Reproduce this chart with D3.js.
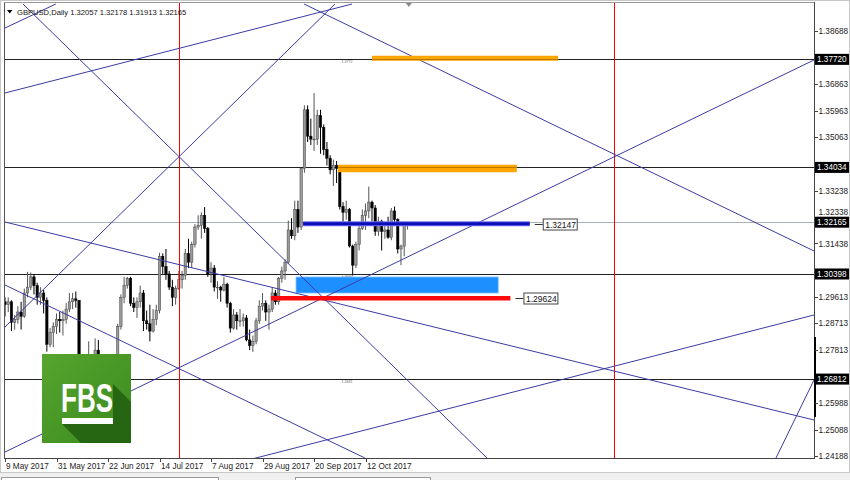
<!DOCTYPE html>
<html><head><meta charset="utf-8">
<script src="https://cdn.jsdelivr.net/npm/d3@7/dist/d3.min.js"></script>
<style>
body{margin:0;background:#fff;}
svg{display:block;font-family:"Liberation Sans",Arial,sans-serif;}
</style>
</head><body>
<svg id="c" width="850" height="480"></svg>
<script>
// ---------- DATA ----------
const symbolTitle = "GBPUSD,Daily";
const lastOHLC = ["1.32057","1.32178","1.31913","1.32165"];

const opens  = [1.2945,1.2935,1.2945,1.2875,1.2885,1.2910,1.2895,1.2975,1.2995,1.3030,
  1.3000,1.2960,1.2975,1.2950,1.2800,1.2840,1.2860,1.2885,1.2880,1.2885,
  1.2920,1.2945,1.2955,1.2950,1.2740,1.2655,1.2740,1.2745,1.2750,1.2780,
  1.2730,1.2630,1.2660,1.2700,1.2720,1.2730,1.2860,1.2960,1.3000,1.3025,
  1.2940,1.2925,1.2945,1.2975,1.2880,1.2870,1.2845,1.2885,1.2915,1.3100,
  1.3065,1.3040,1.2995,1.2960,1.2990,1.3020,1.3035,1.3110,1.3080,1.3140,
  1.3200,1.3205,1.3240,1.3195,1.3040,1.3060,1.2995,1.2995,1.2985,1.3005,
  1.2940,1.2855,1.2900,1.2880,1.2880,1.2890,1.2815,1.2795,1.2810,1.2880,
  1.2930,1.2940,1.2910,1.2920,1.2975,1.2945,1.3025,1.3050,1.3080,1.3190,
  1.3170,1.3260,1.3200,1.3400,1.3600,1.3510,1.3500,1.3500,1.3580,1.3540,
  1.3465,1.3435,1.3395,1.3410,1.3400,1.3270,1.3250,1.3260,1.3135,1.3070,
  1.3140,1.3195,1.3240,1.3255,1.3285,1.3265,1.3185,1.3220,1.3185,1.3190,
  1.3165,1.3255,1.3225,1.3125,1.3135,1.32057];
const highs  = [1.2960,1.2960,1.2950,1.2900,1.2930,1.2945,1.2990,1.3047,1.3045,1.3040,
  1.3010,1.2995,1.2985,1.2960,1.2855,1.2875,1.2905,1.2910,1.2915,1.2940,
  1.2975,1.2975,1.2980,1.2950,1.2750,1.2750,1.2810,1.2760,1.2820,1.2815,
  1.2740,1.2700,1.2720,1.2750,1.2760,1.2870,1.2970,1.3030,1.3030,1.3030,
  1.2960,1.2960,1.3000,1.2985,1.2915,1.2935,1.2920,1.2935,1.3112,1.3110,
  1.3125,1.3050,1.3020,1.3000,1.3050,1.3050,1.3125,1.3160,1.3150,1.3210,
  1.3240,1.3250,1.3268,1.3200,1.3080,1.3070,1.3015,1.3000,1.3030,1.3010,
  1.2945,1.2920,1.2910,1.2920,1.2905,1.2900,1.2850,1.2830,1.2890,1.2950,
  1.2975,1.2950,1.2935,1.2995,1.2985,1.3030,1.3065,1.3090,1.3222,1.3230,
  1.3290,1.3290,1.3400,1.3615,1.3615,1.3570,1.3657,1.3600,1.3600,1.3550,
  1.3490,1.3445,1.3430,1.3425,1.3405,1.3285,1.3290,1.3265,1.3140,1.3150,
  1.3210,1.3260,1.3280,1.3338,1.3290,1.3275,1.3235,1.3225,1.3215,1.3235,
  1.3265,1.3270,1.3230,1.3140,1.3215,1.32178];
const lows   = [1.2895,1.2910,1.2845,1.2850,1.2870,1.2850,1.2890,1.2960,1.2985,1.2970,
  1.2935,1.2935,1.2905,1.2775,1.2790,1.2790,1.2835,1.2840,1.2830,1.2870,
  1.2910,1.2920,1.2925,1.2635,1.2635,1.2630,1.2720,1.2690,1.2745,1.2710,
  1.2620,1.2590,1.2640,1.2680,1.2700,1.2710,1.2850,1.2940,1.2990,1.2930,
  1.2910,1.2890,1.2925,1.2845,1.2850,1.2810,1.2840,1.2865,1.2905,1.3040,
  1.3020,1.2985,1.2930,1.2935,1.2985,1.2990,1.3020,1.3060,1.3060,1.3130,
  1.3190,1.3160,1.3180,1.3030,1.3010,1.2980,1.2955,1.2945,1.2980,1.2925,
  1.2840,1.2850,1.2850,1.2860,1.2860,1.2810,1.2780,1.2774,1.2800,1.2870,
  1.2915,1.2880,1.2850,1.2910,1.2935,1.2935,1.3010,1.3020,1.3075,1.3160,
  1.3155,1.3180,1.3190,1.3385,1.3490,1.3480,1.3460,1.3480,1.3450,1.3445,
  1.3410,1.3380,1.3340,1.3350,1.3260,1.3210,1.3225,1.3130,1.3035,1.3060,
  1.3120,1.3190,1.3190,1.3230,1.3220,1.3170,1.3170,1.3120,1.3160,1.3160,
  1.3155,1.3210,1.3110,1.3070,1.3100,1.31913];
const closes = [1.2935,1.2945,1.2875,1.2885,1.2910,1.2895,1.2975,1.2995,1.3030,1.3000,
  1.2960,1.2975,1.2950,1.2800,1.2840,1.2860,1.2885,1.2880,1.2885,1.2920,
  1.2945,1.2955,1.2950,1.2740,1.2655,1.2740,1.2745,1.2750,1.2780,1.2730,
  1.2630,1.2660,1.2700,1.2720,1.2730,1.2860,1.2960,1.3000,1.3025,1.2940,
  1.2925,1.2945,1.2975,1.2880,1.2870,1.2845,1.2885,1.2915,1.3100,1.3065,
  1.3040,1.2995,1.2960,1.2990,1.3020,1.3035,1.3110,1.3080,1.3140,1.3200,
  1.3205,1.3240,1.3195,1.3040,1.3060,1.2995,1.2995,1.2985,1.3005,1.2940,
  1.2855,1.2900,1.2880,1.2880,1.2890,1.2815,1.2795,1.2810,1.2880,1.2930,
  1.2940,1.2910,1.2920,1.2975,1.2945,1.3025,1.3050,1.3080,1.3190,1.3170,
  1.3260,1.3200,1.3400,1.3600,1.3510,1.3500,1.3500,1.3580,1.3540,1.3465,
  1.3435,1.3395,1.3410,1.3400,1.3270,1.3250,1.3260,1.3135,1.3070,1.3140,
  1.3195,1.3240,1.3255,1.3285,1.3265,1.3185,1.3220,1.3185,1.3190,1.3165,
  1.3255,1.3225,1.3125,1.3135,1.3205,1.32165];

const dateLabels = ["9 May 2017","31 May 2017","22 Jun 2017","14 Jul 2017","7 Aug 2017","29 Aug 2017","20 Sep 2017","12 Oct 2017"];
const dateBarIdx = [0,16,32,48,64,80,96,112];

const priceTicks = [1.38688,1.36863,1.35963,1.35063,1.33238,1.32338,1.31438,1.29613,1.28713,1.27813,1.25988,1.25088,1.24188];
const levelLines = [1.37720,1.34034,1.30398,1.26812];   // black horizontal lines
const currentPrice = 1.32165;

// trend lines: [bar1, price1, bar2, price2]
const trendA = [0,1.3879,15.8,1.3961];
const trendB = [0,1.36573,107.8,1.39609];
const trendC = [0,1.28589,102.5,1.39609];
const trendD = [5.6,1.39609,149.7,1.24120];
const trendE = [0,1.32171,251.3,1.25416];
const trendF = [0,1.30022,111.8,1.24120];
const trendG = [0,1.24324,251.3,1.37699];
const trendH = [92.9,1.39609,251.3,1.31182];
const trendI = [75.5,1.24051,251.3,1.28999];
const trendJ = [239.5,1.24120,251.3,1.26781];
const trendLines = [trendA,trendB,trendC,trendD,trendE,trendF,trendG,trendH,trendI,trendJ];

const redVerticalBars = [54, 189.2];
// zones: [bar1, bar2, price]
const orangeTop = [114, 171.8, 1.37760];
const orangeMid = [103.4, 159, 1.33997];
const blueLevel = [92.6, 163, 1.32147];
const redLevel  = [82.6, 157, 1.29624];
const blueZone  = [90.4, 153.2, 1.30295, 1.29749];

// ---------- DRAW ----------
const svg = d3.select("#c");
const L = 4, R = 814, T = 2, B = 458;
const x = d3.scaleLinear().domain([0, 251.3]).range([5, 814]);
const y = d3.scaleLinear().domain([1.24188, 1.38688]).range([456, 31]);

svg.append("rect").attr("width",850).attr("height",480).attr("fill","#fff");
const defs = svg.append("defs");
defs.append("clipPath").attr("id","plot")
  .append("rect").attr("x",L+0.5).attr("y",T+0.5).attr("width",R-L-0.5).attr("height",B-T-0.5);

const g = svg.append("g").attr("clip-path","url(#plot)");

// blue zone (background)
g.append("rect").attr("class","bzone")
  .attr("x", x(blueZone[0])).attr("width", x(blueZone[1]) - x(blueZone[0]))
  .attr("y", y(blueZone[2])).attr("height", y(blueZone[3]) - y(blueZone[2]))
  .attr("fill", "#1e8fff").attr("stroke","#7cc0ff").attr("stroke-width",0.8);

// level lines
g.selectAll("line.lvl").data(levelLines).join("line").attr("class","lvl")
  .attr("x1", L).attr("x2", R).attr("y1", d => Math.round(y(d))+0.5).attr("y2", d => Math.round(y(d))+0.5)
  .attr("stroke", "#222").attr("stroke-width", 1);
g.append("line").attr("class","cur").attr("x1",L).attr("x2",R)
  .attr("y1", Math.round(y(currentPrice))+0.5).attr("y2", Math.round(y(currentPrice))+0.5)
  .attr("stroke","#a8b2bc").attr("stroke-width",1);

// tiny level descriptions
g.selectAll("text.lvt").data(levelLines).join("text").attr("class","lvt")
  .attr("x", x(104.5)).attr("y", d => y(d)+3.5)
  .attr("font-size", 3.6).attr("fill", "#6a6a6a").text(d => d.toFixed(4));

// candles
const bars = d3.range(opens.length).map(i => ({i, o:opens[i], h:highs[i], l:lows[i], c:closes[i]}));
const cg = g.append("g");
cg.selectAll("line.wick").data(bars).join("line").attr("class","wick")
  .attr("x1", d => x(d.i)).attr("x2", d => x(d.i))
  .attr("y1", d => y(d.h)).attr("y2", d => y(d.l))
  .attr("stroke", d => d.c >= d.o ? "#555" : "#000").attr("stroke-width", 1);
cg.selectAll("rect.body").data(bars).join("rect").attr("class","body")
  .attr("x", d => x(d.i) - 1.2).attr("width", 2.4)
  .attr("y", d => y(Math.max(d.o, d.c)))
  .attr("height", d => Math.max(0.8, Math.abs(y(d.o) - y(d.c))))
  .attr("fill", d => d.c >= d.o ? "#9a9a9a" : "#000")
  .attr("stroke", d => d.c >= d.o ? "#444" : "#000").attr("stroke-width", 0.5);

// red verticals (on top of candles)
g.selectAll("line.rv").data(redVerticalBars).join("line").attr("class","rv")
  .attr("x1", d => Math.round(x(d))+0.5).attr("x2", d => Math.round(x(d))+0.5)
  .attr("y1", T).attr("y2", B).attr("stroke", "#ff0000").attr("stroke-width", 1);

// trend lines
g.selectAll("line.tl").data(trendLines).join("line").attr("class","tl")
  .attr("x1", d => x(d[0])).attr("y1", d => y(d[1]))
  .attr("x2", d => x(d[2])).attr("y2", d => y(d[3]))
  .attr("stroke", "#3b3ba3").attr("stroke-width", 1);

// orange bars
g.append("line").attr("class","or1").attr("x1", x(orangeTop[0])).attr("x2", x(orangeTop[1]))
  .attr("y1", y(orangeTop[2])).attr("y2", y(orangeTop[2]))
  .attr("stroke", "#ffa500").attr("stroke-width", 5);
g.append("line").attr("class","or2").attr("x1", x(orangeMid[0])).attr("x2", x(orangeMid[1]))
  .attr("y1", y(orangeMid[2])).attr("y2", y(orangeMid[2]))
  .attr("stroke", "#ffa500").attr("stroke-width", 7.5);
// black level visible through the orange bars
g.selectAll("line.lvl2").data([[orangeTop, levelLines[0]], [orangeMid, levelLines[1]]]).join("line").attr("class","lvl2")
  .attr("x1", d => x(d[0][0])).attr("x2", d => x(d[0][1]))
  .attr("y1", d => Math.round(y(d[1]))+0.5).attr("y2", d => Math.round(y(d[1]))+0.5)
  .attr("stroke", "#6a4200").attr("stroke-width", 0.8).attr("stroke-opacity",0.55);

// blue level
g.append("line").attr("class","bl1").attr("x1", x(blueLevel[0])).attr("x2", x(blueLevel[1]))
  .attr("y1", y(blueLevel[2])+1).attr("y2", y(blueLevel[2])+1)
  .attr("stroke", "#6f6ff0").attr("stroke-width", 5);
g.append("line").attr("class","bl2").attr("x1", x(blueLevel[0])).attr("x2", x(blueLevel[1]))
  .attr("y1", y(blueLevel[2])+1).attr("y2", y(blueLevel[2])+1)
  .attr("stroke", "#0c0cb8").attr("stroke-width", 3);
// red level
g.append("line").attr("class","rl").attr("x1", x(redLevel[0])).attr("x2", x(redLevel[1]))
  .attr("y1", y(redLevel[2])+1.5).attr("y2", y(redLevel[2])+1.5)
  .attr("stroke", "#ff0a0a").attr("stroke-width", 4.5);

// price tags for blue & red levels
function tag(bar2, price, txt) {
  const yy = Math.round(y(price)) + 1.5;
  const x0 = x(bar2);
  svg.append("line").attr("x1", x0 + 5).attr("x2", x0 + 13).attr("y1", yy).attr("y2", yy)
    .attr("stroke", "#333").attr("stroke-width", 1);
  svg.append("rect").attr("x", x0 + 13.5).attr("y", yy - 5.5).attr("width", 34).attr("height", 11)
    .attr("fill", "#fff").attr("stroke", "#444").attr("stroke-width", 1);
  svg.append("text").attr("x", x0 + 15.5).attr("y", yy + 3).attr("font-size", 8.5).attr("fill", "#111").text(txt);
}
tag(blueLevel[1], blueLevel[2], blueLevel[2].toFixed(5));
tag(redLevel[1], redLevel[2], redLevel[2].toFixed(5));

// ---------- frame ----------
svg.append("rect").attr("x",0.5).attr("y",0.5).attr("width",849).attr("height",472).attr("fill","none").attr("stroke","#c8c8c8");
svg.append("line").attr("x1",L+0.5).attr("x2",L+0.5).attr("y1",T).attr("y2",B+1).attr("stroke","#555");
svg.append("line").attr("x1",L).attr("x2",R+1).attr("y1",T+0.5).attr("y2",T+0.5).attr("stroke","#9a9a9a");
svg.append("line").attr("x1",L).attr("x2",R+1).attr("y1",B+0.5).attr("y2",B+0.5).attr("stroke","#444");
svg.append("line").attr("x1",R+0.5).attr("x2",R+0.5).attr("y1",T).attr("y2",B+1).attr("stroke","#444");
svg.append("line").attr("x1",R+1).attr("x2",R+1).attr("y1",337).attr("y2",417).attr("stroke","#000").attr("stroke-width",2);

// shift marker
svg.append("path").attr("d", `M${x(124.5)},3 l6,0 l-3,4 z`).attr("fill","#8a8a8a");

// ---------- price axis ----------
const highlighted = [currentPrice, ...levelLines];
priceTicks.forEach(p => {
  const yy = y(p);
  let ty = yy + 3;
  highlighted.forEach(h => { const hy = y(h); if (Math.abs(hy - yy) < 11 && hy > yy) ty = Math.min(ty, hy - 7.5); });
  svg.append("line").attr("x1",R+1).attr("x2",R+4).attr("y1",Math.round(yy)+0.5).attr("y2",Math.round(yy)+0.5).attr("stroke","#444");
  svg.append("text").attr("x",R+4.5).attr("y",ty).attr("font-size",8.2).attr("fill","#222").text(p.toFixed(5));
});
highlighted.forEach(p => {
  const yy = y(p);
  svg.append("rect").attr("x",R+1).attr("y",yy-5.5).attr("width",34).attr("height",11).attr("fill","#000");
  svg.append("text").attr("x",R+3).attr("y",yy+3).attr("font-size",8.2).attr("fill","#fff").text(p.toFixed(5));
});

// ---------- time axis ----------
dateBarIdx.forEach((b, k) => {
  const xx = Math.round(x(b)) + 0.5;
  svg.append("line").attr("x1",xx).attr("x2",xx).attr("y1",B).attr("y2",B+4).attr("stroke","#444");
  svg.append("text").attr("x",xx + 0.5).attr("y",469).attr("font-size",8.2).attr("fill","#222").text(dateLabels[k]);
});

// ---------- title ----------
svg.append("path").attr("d","M7,10 l5.5,0 l-2.75,3.5 z").attr("fill","#000");
svg.append("text").attr("x",17).attr("y",15).attr("font-size",7.6).attr("fill","#111")
  .text(symbolTitle + "  " + lastOHLC.join(" "));

// ---------- bottom tab strip ----------
svg.append("rect").attr("x",0).attr("y",473).attr("width",850).attr("height",7).attr("fill","#f0f0f0");
svg.append("rect").attr("x",1.5).attr("y",477.5).attr("width",217).attr("height",6).attr("fill","#fff").attr("stroke","#9a9a9a");
svg.append("rect").attr("x",295.5).attr("y",477.5).attr("width",135).attr("height",6).attr("fill","#fff").attr("stroke","#9a9a9a");

// ---------- FBS logo ----------
const grad = defs.append("linearGradient").attr("id","fbsg").attr("x1","0").attr("y1","0").attr("x2","1").attr("y2","1");
grad.append("stop").attr("offset","0").attr("stop-color","#56a52f");
grad.append("stop").attr("offset","1").attr("stop-color","#3a8a1e");
const lg = svg.append("g");
lg.append("rect").attr("x",42).attr("y",354).attr("width",89).attr("height",89).attr("fill","url(#fbsg)");
lg.append("path").attr("d","M62,424 L113,424 L113,384 L131,402 L131,443 L81,443 Z").attr("fill","#24600f").attr("opacity",0.9);
lg.append("text").attr("x",61).attr("y",412).attr("font-size",41).attr("font-weight","bold")
  .attr("fill","#fff").attr("textLength",52).attr("lengthAdjust","spacingAndGlyphs").text("FBS");
lg.append("rect").attr("x",62).attr("y",418).attr("width",51).attr("height",6).attr("fill","#fff");
</script>
</body></html>
